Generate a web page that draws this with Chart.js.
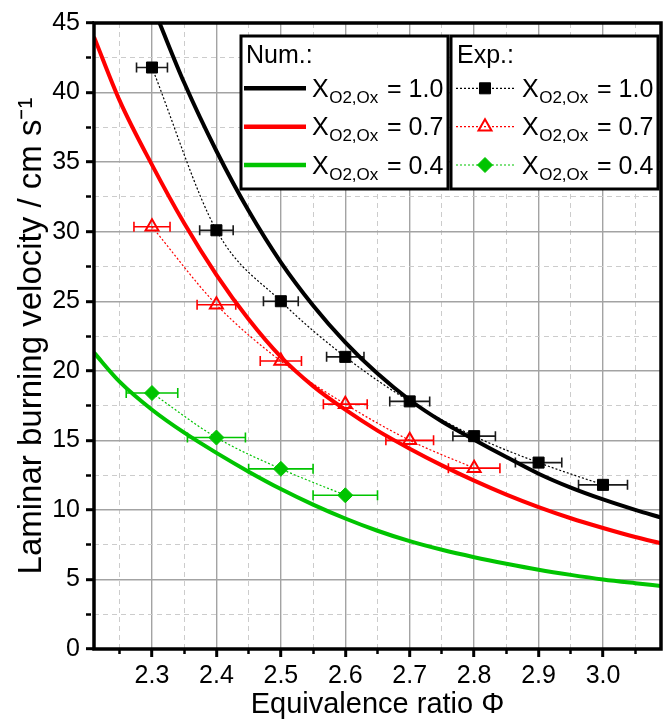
<!DOCTYPE html>
<html>
<head>
<meta charset="utf-8">
<script src="https://cdn.jsdelivr.net/npm/chart.js@4.4.1/dist/chart.umd.min.js"></script>
<style>
  html, body { margin: 0; padding: 0; background: #fff; }
  #wrap { width: 671px; height: 722px; }
</style>
</head>
<body>
<div id="wrap"><canvas id="burnChart" width="671" height="722"></canvas></div>
<script>
// tick labels
var xTickLabels = [2.3, 2.4, 2.5, 2.6, 2.7, 2.8, 2.9, 3.0];
var yTickLabels = [0, 5, 10, 15, 20, 25, 30, 35, 40, 45];

// series labels (X_O2,Ox)
var seriesLabels = ['1.0', '0.7', '0.4'];

// numerical results
var phiNum10 = [2.31, 2.35, 2.40, 2.45, 2.50, 2.55, 2.60, 2.65, 2.70, 2.75, 2.80, 2.85, 2.90, 2.95, 3.00, 3.05, 3.09];
var numX10 = [45.2, 40.7, 35.8, 31.5, 27.8, 24.7, 22.05, 19.8, 17.9, 16.35, 15.05, 13.8, 12.6, 11.6, 10.75, 10.0, 9.45];
var phiNum = [2.21, 2.25, 2.30, 2.35, 2.40, 2.45, 2.50, 2.55, 2.60, 2.65, 2.70, 2.75, 2.80, 2.85, 2.90, 2.95, 3.00, 3.05, 3.09];
var numX07 = [44.0, 39.4, 34.8, 30.6, 26.9, 23.7, 21.0, 18.9, 17.2, 15.7, 14.4, 13.2, 12.1, 11.1, 10.2, 9.4, 8.7, 8.05, 7.6];
var numX04 = [21.3, 19.2, 17.2, 15.55, 14.1, 12.75, 11.5, 10.38, 9.38, 8.5, 7.75, 7.13, 6.6, 6.13, 5.7, 5.33, 5.0, 4.73, 4.53];

// experiments
var phiExp = [2.3, 2.4, 2.5, 2.6, 2.7, 2.8, 2.9, 3.0];
var expX10 = [41.8, 30.1, 25.0, 21.0, 17.8, 15.3, 13.4, 11.8];
var errX10 = [0.024, 0.026, 0.027, 0.029, 0.031, 0.033, 0.036, 0.038];
var expX07 = [30.35, 24.75, 20.7, 17.6, 15.0, 13.0];
var errX07 = [0.028, 0.030, 0.032, 0.034, 0.037, 0.040];
var expX04 = [18.4, 15.2, 12.95, 11.05];
var errX04 = [0.040, 0.045, 0.050, 0.050];

var GREEN = '#00c400';
var FONT = "'Liberation Sans', Arial, sans-serif";

function pts(xs, ys) {
  return ys.map(function (y, i) { return {x: xs[i], y: y}; });
}

function isMajor(v, list) {
  return list.some(function (t) { return Math.abs(t - v) < 1e-6; });
}

Chart.defaults.font.family = FONT;
Chart.defaults.color = '#000';

var errorBars = {
  id: 'errorBars',
  beforeDatasetsDraw: function (chart) {
    var ctx = chart.ctx, xs = chart.scales.x, ys = chart.scales.y;
    chart.data.datasets.forEach(function (ds) {
      if (!ds.xErr) return;
      ctx.save();
      ctx.strokeStyle = ds.errColor;
      ctx.lineWidth = 1.6;
      ds.data.forEach(function (p, i) {
        var x1 = xs.getPixelForValue(p.x - ds.xErr[i]);
        var x2 = xs.getPixelForValue(p.x + ds.xErr[i]);
        var y = ys.getPixelForValue(p.y);
        ctx.beginPath();
        ctx.moveTo(x1, y); ctx.lineTo(x2, y);
        ctx.moveTo(x1, y - 5); ctx.lineTo(x1, y + 5);
        ctx.moveTo(x2, y - 5); ctx.lineTo(x2, y + 5);
        ctx.stroke();
      });
      ctx.restore();
    });
  }
};

function entryText(ctx, x, y, val) {
  ctx.fillStyle = '#000';
  ctx.textBaseline = 'alphabetic';
  ctx.textAlign = 'left';
  ctx.font = '25px ' + FONT;
  ctx.fillText('X', x, y + 8.5);
  var w = ctx.measureText('X').width;
  ctx.font = '17px ' + FONT;
  ctx.fillText('O2,Ox', x + w + 0.5, y + 14.5);
  ctx.font = '25px ' + FONT;
  ctx.fillText('= ' + val, x + 75, y + 8.5);
}

var frameAndLegend = {
  id: 'frameAndLegend',
  afterDraw: function (chart) {
    var ctx = chart.ctx, a = chart.chartArea;
    ctx.save();
    // frame
    ctx.strokeStyle = '#000';
    ctx.lineWidth = 3.5;
    ctx.strokeRect(a.left, a.top, a.right - a.left, a.bottom - a.top);

    var top = a.top + 13, h = 153, w = 207;
    var boxes = [a.right - 420, a.right - 210];
    boxes.forEach(function (L) {
      ctx.fillStyle = '#fff';
      ctx.fillRect(L, top, w, h);
      ctx.lineWidth = 3;
      ctx.strokeStyle = '#000';
      ctx.strokeRect(L, top, w, h);
    });
    ctx.fillStyle = '#000';
    ctx.font = '25px ' + FONT;
    ctx.textBaseline = 'alphabetic';
    ctx.fillText('Num.:', boxes[0] + 5, top + 27);
    ctx.fillText('Exp.:', boxes[1] + 6, top + 27);

    var rows = [52.3, 90.7, 129];
    var ds = chart.data.datasets;
    rows.forEach(function (r, i) {
      var y = top + r;
      var num = ds[3 + i], exp = ds[i];
      // numerical sample
      var L = boxes[0];
      ctx.save();
      ctx.strokeStyle = num.borderColor;
      ctx.lineWidth = 4.5;
      ctx.beginPath(); ctx.moveTo(L + 3, y); ctx.lineTo(L + 65, y); ctx.stroke();
      ctx.restore();
      entryText(ctx, L + 71, y, seriesLabels[i]);
      // experimental sample
      L = boxes[1];
      ctx.save();
      ctx.strokeStyle = exp.borderColor;
      ctx.lineWidth = 1.2;
      ctx.setLineDash([2, 2]);
      ctx.beginPath(); ctx.moveTo(L + 5, y); ctx.lineTo(L + 64, y); ctx.stroke();
      ctx.setLineDash([]);
      ctx.fillStyle = exp.pointBackgroundColor;
      ctx.strokeStyle = exp.pointBorderColor;
      ctx.lineWidth = exp.pointBorderWidth;
      Chart.helpers.drawPoint(ctx, {
        pointStyle: exp.pointStyle, radius: exp.pointRadius,
        borderWidth: exp.pointBorderWidth, rotation: 0
      }, L + 34, y);
      ctx.restore();
      entryText(ctx, L + 71, y, seriesLabels[i]);
    });
    ctx.restore();
  }
};

function gridOpts(majors) {
  return {
    color: function (c) { return c.tick && isMajor(c.tick.value, majors) ? '#a3a3a3' : '#cccccc'; },
    lineWidth: function (c) { return c.tick && isMajor(c.tick.value, majors) ? 1.4 : 1; },
    tickColor: '#000',
    tickLength: 8,
    tickWidth: function (c) { return c.tick && isMajor(c.tick.value, majors) ? 3 : 2.5; },
    tickBorderDash: function (c) { return c.tick && isMajor(c.tick.value, majors) ? [] : [5, 30]; }
  };
}

function borderOpts(majors) {
  return {
    display: false,
    dash: function (c) { return c.tick && !isMajor(c.tick.value, majors) ? [5, 4] : []; }
  };
}

var ctx = document.getElementById('burnChart').getContext('2d');
var burnChart = new Chart(ctx, {
  type: 'line',
  data: {
    datasets: [
      {
        label: 'Exp. 1.0',
        data: pts(phiExp, expX10),
        xErr: errX10, errColor: '#1a1a1a',
        borderColor: '#000', borderWidth: 1.2, borderDash: [2, 2],
        cubicInterpolationMode: 'monotone',
        pointStyle: 'rect', pointRadius: 7.8,
        pointBackgroundColor: '#000', pointBorderColor: '#000', pointBorderWidth: 1
      },
      {
        label: 'Exp. 0.7',
        data: pts(phiExp, expX07),
        xErr: errX07, errColor: '#ff0000',
        borderColor: '#ff0000', borderWidth: 1.2, borderDash: [2, 2],
        cubicInterpolationMode: 'monotone',
        pointStyle: 'triangle', pointRadius: 7.5,
        pointBackgroundColor: 'rgba(255,255,255,0)', pointBorderColor: '#ff0000', pointBorderWidth: 2
      },
      {
        label: 'Exp. 0.4',
        data: pts(phiExp, expX04),
        xErr: errX04, errColor: GREEN,
        borderColor: GREEN, borderWidth: 1.2, borderDash: [2, 2],
        cubicInterpolationMode: 'monotone',
        pointStyle: 'rectRot', pointRadius: 7.5,
        pointBackgroundColor: GREEN, pointBorderColor: GREEN, pointBorderWidth: 1
      },
      {
        label: 'Num. 1.0',
        data: pts(phiNum10, numX10),
        borderColor: '#000', borderWidth: 4,
        cubicInterpolationMode: 'monotone', pointRadius: 0
      },
      {
        label: 'Num. 0.7',
        data: pts(phiNum, numX07),
        borderColor: '#ff0000', borderWidth: 4,
        cubicInterpolationMode: 'monotone', pointRadius: 0
      },
      {
        label: 'Num. 0.4',
        data: pts(phiNum, numX04),
        borderColor: GREEN, borderWidth: 4,
        cubicInterpolationMode: 'monotone', pointRadius: 0
      }
    ]
  },
  options: {
    responsive: false,
    animation: false,
    devicePixelRatio: 1,
    layout: { padding: { top: 23, right: 10, left: 0, bottom: 0 } },
    plugins: { legend: { display: false }, tooltip: { enabled: false } },
    scales: {
      x: {
        type: 'linear', min: 2.21, max: 3.09,
        afterFit: function (s) { s.height = 73; },
        ticks: {
          stepSize: 0.05, includeBounds: false, autoSkip: false, maxRotation: 0,
          padding: 4, font: { size: 25 }, color: '#000',
          callback: function (v) { return isMajor(v, xTickLabels) ? v.toFixed(1) : ''; }
        },
        grid: gridOpts(xTickLabels),
        border: borderOpts(xTickLabels),
        title: { display: true, text: 'Equivalence ratio Φ', font: { size: 29 }, color: '#000', padding: { top: 0, bottom: 0 } }
      },
      y: {
        type: 'linear', min: 0, max: 45,
        afterFit: function (s) { s.width = 94; },
        ticks: {
          stepSize: 2.5, includeBounds: false, autoSkip: false,
          padding: 6, font: { size: 25 }, color: '#000',
          callback: function (v) { return isMajor(v, yTickLabels) ? String(v) : ''; }
        },
        grid: gridOpts(yTickLabels),
        border: borderOpts(yTickLabels),
        title: { display: true, text: 'Laminar burning velocity / cm s⁻¹', font: { size: 33 }, color: '#000', padding: { top: 12, bottom: 0 } }
      }
    }
  },
  plugins: [errorBars, frameAndLegend]
});
</script>
</body>
</html>
